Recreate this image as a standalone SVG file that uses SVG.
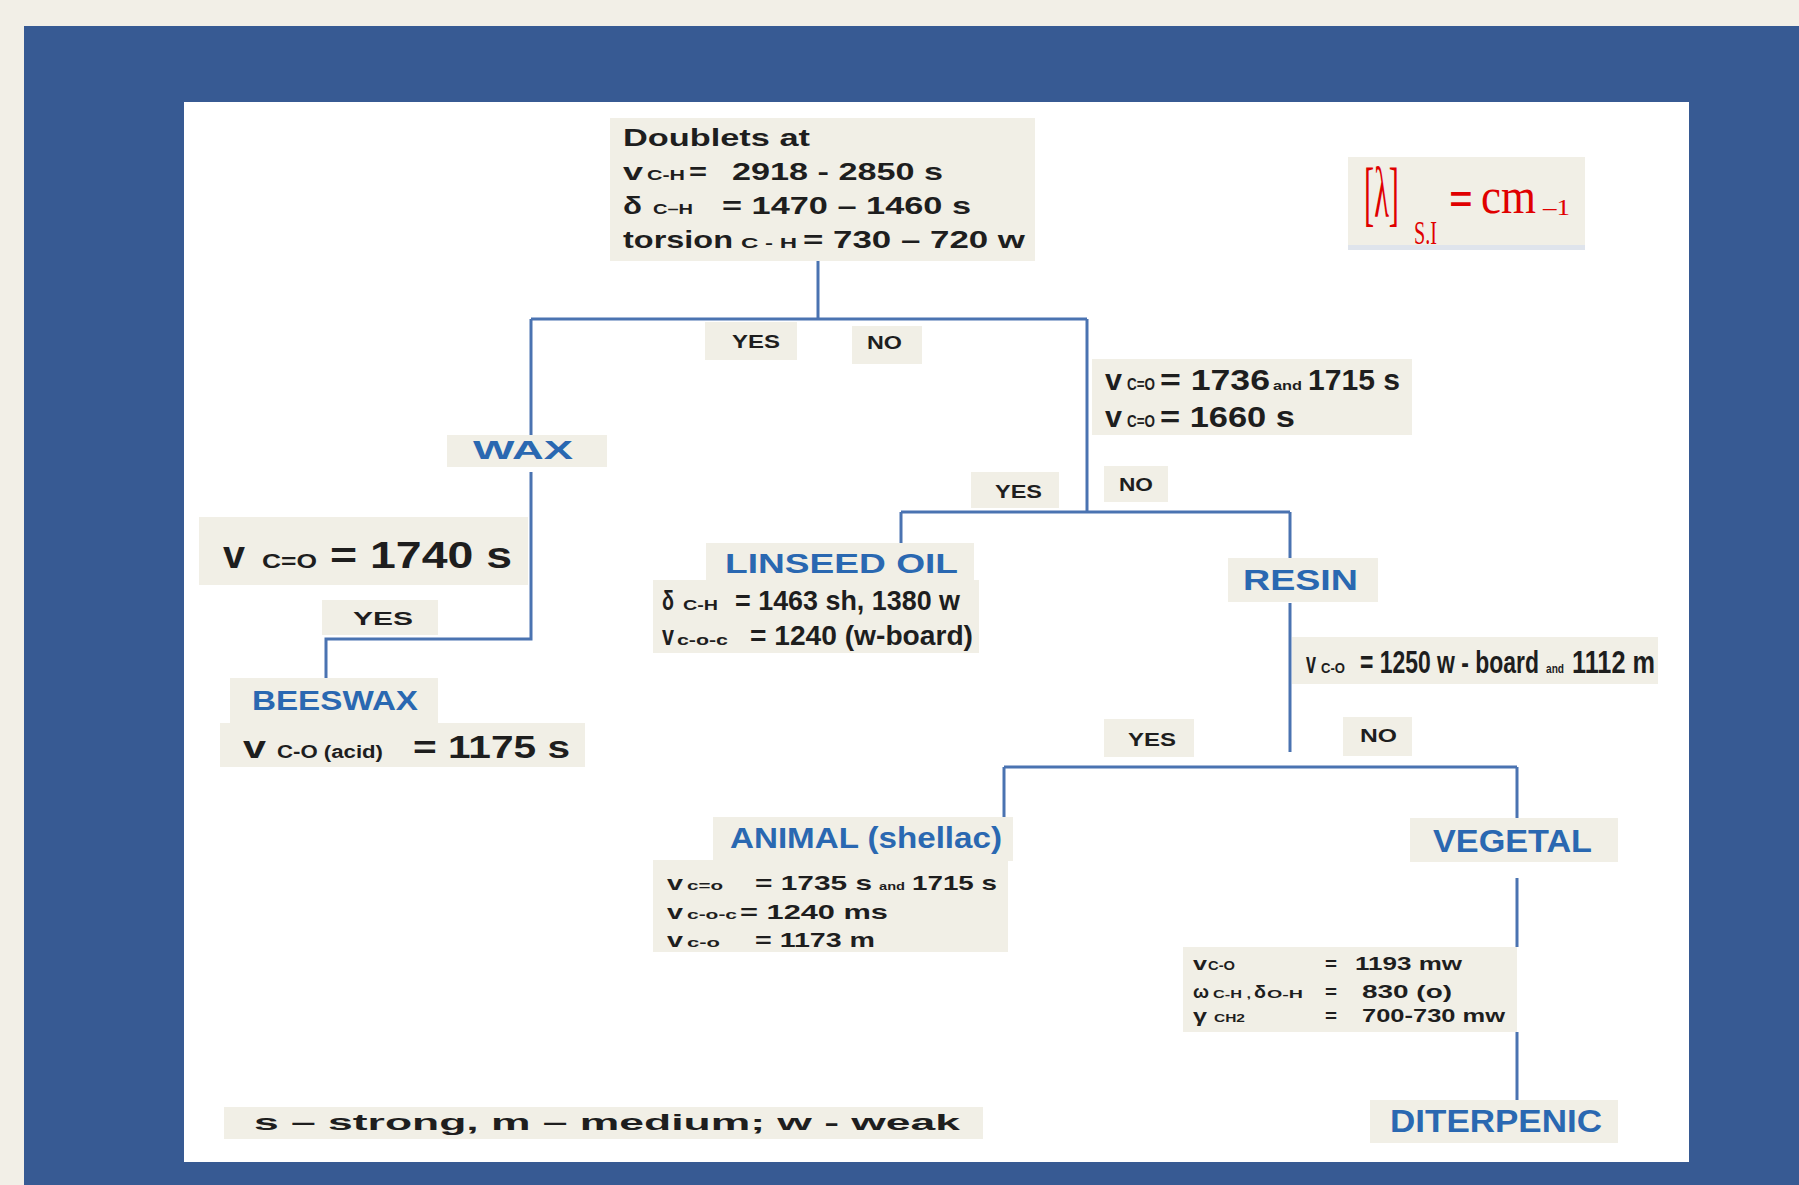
<svg xmlns="http://www.w3.org/2000/svg" width="1799" height="1185" viewBox="0 0 1799 1185">
<style>
.box{fill:#f1efe6}
.t{font-family:"Liberation Sans",Arial,sans-serif;font-weight:bold;fill:#1e1e1e}
.b{fill:#2a68b1}
.r{font-family:"Liberation Serif","Times New Roman",serif;fill:#e00000}
.c{stroke:#4a73b1;stroke-width:3;fill:none}
</style>
<rect x="0" y="0" width="1799" height="1185" fill="#f2efe7"/>
<rect x="24" y="26" width="1775" height="1159" fill="#375a93"/>
<rect x="184" y="102" width="1505" height="1060" fill="#ffffff"/>

<g id="connectors">
<path class="c" d="M818 261 V319"/>
<path class="c" d="M531 319 H1087"/>
<path class="c" d="M531 319 V435"/>
<path class="c" d="M531 472 V639 H326 V678"/>
<path class="c" d="M1087 319 V512"/>
<path class="c" d="M901 512 H1290"/>
<path class="c" d="M901 512 V543"/>
<path class="c" d="M1290 512 V558"/>
<path class="c" d="M1290 603 V752"/>
<path class="c" d="M1004 767 H1517"/>
<path class="c" d="M1004 767 V817"/>
<path class="c" d="M1517 767 V818"/>
<path class="c" d="M1517 878 V947"/>
<path class="c" d="M1517 1032 V1100"/>
</g>

<g id="root">
<rect class="box" x="610" y="118" width="425" height="143"/>
<text class="t" x="623" y="146" font-size="24" textLength="187" lengthAdjust="spacingAndGlyphs">Doublets at</text>
<text class="t" x="623" y="180" font-size="24" textLength="20" lengthAdjust="spacingAndGlyphs">v</text>
<text class="t" x="647" y="180" font-size="15" textLength="38" lengthAdjust="spacingAndGlyphs">C-H</text>
<text class="t" x="689" y="180" font-size="24" textLength="18" lengthAdjust="spacingAndGlyphs">=</text>
<text class="t" x="732" y="180" font-size="24" textLength="211" lengthAdjust="spacingAndGlyphs">2918 - 2850 s</text>
<text class="t" x="623" y="214" font-size="24" textLength="19" lengthAdjust="spacingAndGlyphs">δ</text>
<text class="t" x="653" y="214" font-size="15" textLength="40" lengthAdjust="spacingAndGlyphs">C–H</text>
<text class="t" x="722" y="214" font-size="24" textLength="249" lengthAdjust="spacingAndGlyphs">= 1470 – 1460 s</text>
<text class="t" x="623" y="248" font-size="24" textLength="110" lengthAdjust="spacingAndGlyphs">torsion</text>
<text class="t" x="741" y="248" font-size="15" textLength="56" lengthAdjust="spacingAndGlyphs">C - H</text>
<text class="t" x="803" y="248" font-size="24" textLength="222" lengthAdjust="spacingAndGlyphs">= 730 – 720 w</text>
</g>

<g id="units">
<rect class="box" x="1348" y="157" width="237" height="93"/>
<rect x="1348" y="245" width="237" height="5" fill="#dfe4ec"/>
<text class="r" x="1364" y="217" font-size="72" textLength="35" lengthAdjust="spacingAndGlyphs">[λ]</text>
<text class="r" x="1414" y="244" font-size="34" textLength="23" lengthAdjust="spacingAndGlyphs">S.I</text>
<text class="r" x="1449" y="216" font-size="52" font-weight="bold" textLength="24" lengthAdjust="spacingAndGlyphs">=</text>
<text class="r" x="1481" y="213" font-size="50" textLength="55" lengthAdjust="spacingAndGlyphs">cm</text>
<text class="r" x="1543" y="215" font-size="24" textLength="27" lengthAdjust="spacingAndGlyphs">–1</text>
</g>

<g id="yes1">
<rect class="box" x="705" y="322" width="92" height="38"/>
<text class="t" x="732" y="348" font-size="18" textLength="48" lengthAdjust="spacingAndGlyphs">YES</text>
</g>
<g id="no1">
<rect class="box" x="852" y="326" width="70" height="38"/>
<text class="t" x="867" y="349" font-size="18" textLength="35" lengthAdjust="spacingAndGlyphs">NO</text>
</g>

<g id="wax">
<rect class="box" x="447" y="435" width="160" height="32"/>
<text class="t b" x="473" y="459" font-size="25" textLength="100" lengthAdjust="spacingAndGlyphs">WAX</text>
</g>

<g id="cond-wax">
<rect class="box" x="199" y="517" width="329" height="68"/>
<text class="t" x="223" y="568" font-size="38" textLength="22" lengthAdjust="spacingAndGlyphs">v</text>
<text class="t" x="262" y="568" font-size="20" textLength="55" lengthAdjust="spacingAndGlyphs">C=O</text>
<text class="t" x="330" y="568" font-size="36" textLength="182" lengthAdjust="spacingAndGlyphs">= 1740 s</text>
</g>

<g id="yes-wax">
<rect class="box" x="322" y="600" width="116" height="35"/>
<text class="t" x="353" y="625" font-size="18" textLength="60" lengthAdjust="spacingAndGlyphs">YES</text>
</g>

<g id="beeswax">
<rect class="box" x="230" y="678" width="208" height="45"/>
<text class="t b" x="252" y="710" font-size="28" textLength="166" lengthAdjust="spacingAndGlyphs">BEESWAX</text>
</g>
<g id="beeswax-data">
<rect class="box" x="220" y="723" width="365" height="44"/>
<text class="t" x="243" y="758" font-size="32" textLength="23" lengthAdjust="spacingAndGlyphs">v</text>
<text class="t" x="277" y="758" font-size="18" textLength="106" lengthAdjust="spacingAndGlyphs">C-O (acid)</text>
<text class="t" x="413" y="758" font-size="32" textLength="157" lengthAdjust="spacingAndGlyphs">= 1175 s</text>
</g>

<g id="cond-co">
<rect class="box" x="1092" y="359" width="320" height="76"/>
<text class="t" x="1105" y="390" font-size="30" textLength="17" lengthAdjust="spacingAndGlyphs">v</text>
<text class="t" x="1127" y="390" font-size="16" textLength="28" lengthAdjust="spacingAndGlyphs">C=O</text>
<text class="t" x="1160" y="390" font-size="30" textLength="110" lengthAdjust="spacingAndGlyphs">= 1736</text>
<text class="t" x="1273" y="390" font-size="13" textLength="29" lengthAdjust="spacingAndGlyphs">and</text>
<text class="t" x="1308" y="390" font-size="30" textLength="92" lengthAdjust="spacingAndGlyphs">1715 s</text>
<text class="t" x="1105" y="427" font-size="30" textLength="17" lengthAdjust="spacingAndGlyphs">v</text>
<text class="t" x="1127" y="427" font-size="16" textLength="28" lengthAdjust="spacingAndGlyphs">C=O</text>
<text class="t" x="1160" y="427" font-size="30" textLength="135" lengthAdjust="spacingAndGlyphs">= 1660 s</text>
</g>

<g id="yes2">
<rect class="box" x="971" y="472" width="88" height="36"/>
<text class="t" x="995" y="498" font-size="18" textLength="47" lengthAdjust="spacingAndGlyphs">YES</text>
</g>
<g id="no2">
<rect class="box" x="1104" y="466" width="64" height="36"/>
<text class="t" x="1119" y="491" font-size="18" textLength="34" lengthAdjust="spacingAndGlyphs">NO</text>
</g>

<g id="linseed">
<rect class="box" x="706" y="543" width="268" height="38"/>
<text class="t b" x="725" y="573" font-size="28" textLength="233" lengthAdjust="spacingAndGlyphs">LINSEED OIL</text>
</g>
<g id="linseed-data">
<rect class="box" x="653" y="580" width="326" height="73"/>
<text class="t" x="662" y="610" font-size="28" textLength="12" lengthAdjust="spacingAndGlyphs">δ</text>
<text class="t" x="683" y="610" font-size="14" textLength="35" lengthAdjust="spacingAndGlyphs">C-H</text>
<text class="t" x="735" y="610" font-size="28" textLength="225" lengthAdjust="spacingAndGlyphs">= 1463 sh, 1380 w</text>
<text class="t" x="662" y="645" font-size="28" textLength="12" lengthAdjust="spacingAndGlyphs">v</text>
<text class="t" x="677" y="645" font-size="14" textLength="51" lengthAdjust="spacingAndGlyphs">c-o-c</text>
<text class="t" x="750" y="645" font-size="28" textLength="223" lengthAdjust="spacingAndGlyphs">=  1240  (w-board)</text>
</g>

<g id="resin">
<rect class="box" x="1228" y="558" width="150" height="44"/>
<text class="t b" x="1243" y="590" font-size="30" textLength="115" lengthAdjust="spacingAndGlyphs">RESIN</text>
</g>
<g id="cond-resin">
<rect class="box" x="1292" y="637" width="366" height="47"/>
<text class="t" x="1306" y="673" font-size="30" textLength="10" lengthAdjust="spacingAndGlyphs">v</text>
<text class="t" x="1321" y="673" font-size="15" textLength="24" lengthAdjust="spacingAndGlyphs">C-O</text>
<text class="t" x="1360" y="673" font-size="32" textLength="179" lengthAdjust="spacingAndGlyphs">= 1250 w - board</text>
<text class="t" x="1546" y="673" font-size="12" textLength="18" lengthAdjust="spacingAndGlyphs">and</text>
<text class="t" x="1572" y="673" font-size="32" textLength="83" lengthAdjust="spacingAndGlyphs">1112 m</text>
</g>

<g id="yes3">
<rect class="box" x="1104" y="719" width="90" height="38"/>
<text class="t" x="1128" y="746" font-size="18" textLength="48" lengthAdjust="spacingAndGlyphs">YES</text>
</g>
<g id="no3">
<rect class="box" x="1343" y="717" width="69" height="39"/>
<text class="t" x="1360" y="742" font-size="18" textLength="37" lengthAdjust="spacingAndGlyphs">NO</text>
</g>

<g id="animal">
<rect class="box" x="713" y="817" width="300" height="44"/>
<text class="t b" x="730" y="848" font-size="30" textLength="272" lengthAdjust="spacingAndGlyphs">ANIMAL (shellac)</text>
</g>
<g id="animal-data">
<rect class="box" x="653" y="860" width="355" height="92"/>
<text class="t" x="667" y="890" font-size="21" textLength="16" lengthAdjust="spacingAndGlyphs">v</text>
<text class="t" x="687" y="890" font-size="12" textLength="36" lengthAdjust="spacingAndGlyphs">c=o</text>
<text class="t" x="755" y="890" font-size="21" textLength="117" lengthAdjust="spacingAndGlyphs">= 1735 s</text>
<text class="t" x="879" y="890" font-size="11" textLength="26" lengthAdjust="spacingAndGlyphs">and</text>
<text class="t" x="912" y="890" font-size="21" textLength="85" lengthAdjust="spacingAndGlyphs">1715 s</text>
<text class="t" x="667" y="919" font-size="21" textLength="16" lengthAdjust="spacingAndGlyphs">v</text>
<text class="t" x="687" y="919" font-size="12" textLength="50" lengthAdjust="spacingAndGlyphs">c-o-c</text>
<text class="t" x="740" y="919" font-size="21" textLength="148" lengthAdjust="spacingAndGlyphs">= 1240 ms</text>
<text class="t" x="667" y="947" font-size="21" textLength="16" lengthAdjust="spacingAndGlyphs">v</text>
<text class="t" x="687" y="947" font-size="12" textLength="33" lengthAdjust="spacingAndGlyphs">c-o</text>
<text class="t" x="755" y="947" font-size="21" textLength="120" lengthAdjust="spacingAndGlyphs">= 1173 m</text>
</g>

<g id="vegetal">
<rect class="box" x="1410" y="818" width="208" height="44"/>
<text class="t b" x="1433" y="852" font-size="32" textLength="159" lengthAdjust="spacingAndGlyphs">VEGETAL</text>
</g>
<g id="vegetal-data">
<rect class="box" x="1183" y="947" width="334" height="85"/>
<text class="t" x="1193" y="970" font-size="18" textLength="14" lengthAdjust="spacingAndGlyphs">v</text>
<text class="t" x="1208" y="970" font-size="12" textLength="27" lengthAdjust="spacingAndGlyphs">C-O</text>
<text class="t" x="1325" y="970" font-size="18" textLength="12" lengthAdjust="spacingAndGlyphs">=</text>
<text class="t" x="1355" y="970" font-size="18" textLength="107" lengthAdjust="spacingAndGlyphs">1193 mw</text>
<text class="t" x="1193" y="998" font-size="18" textLength="16" lengthAdjust="spacingAndGlyphs">ω</text>
<text class="t" x="1213" y="998" font-size="11" textLength="38" lengthAdjust="spacingAndGlyphs">C-H ,</text>
<text class="t" x="1254" y="998" font-size="18" textLength="12" lengthAdjust="spacingAndGlyphs">δ</text>
<text class="t" x="1267" y="998" font-size="11" textLength="36" lengthAdjust="spacingAndGlyphs">O-H</text>
<text class="t" x="1325" y="998" font-size="18" textLength="12" lengthAdjust="spacingAndGlyphs">=</text>
<text class="t" x="1362" y="998" font-size="18" textLength="90" lengthAdjust="spacingAndGlyphs">830  (o)</text>
<text class="t" x="1193" y="1022" font-size="18" textLength="14" lengthAdjust="spacingAndGlyphs">γ</text>
<text class="t" x="1214" y="1022" font-size="11" textLength="31" lengthAdjust="spacingAndGlyphs">CH2</text>
<text class="t" x="1325" y="1022" font-size="18" textLength="12" lengthAdjust="spacingAndGlyphs">=</text>
<text class="t" x="1362" y="1022" font-size="18" textLength="143" lengthAdjust="spacingAndGlyphs">700-730 mw</text>
</g>

<g id="diterpenic">
<rect class="box" x="1370" y="1100" width="248" height="43"/>
<text class="t b" x="1390" y="1132" font-size="32" textLength="212" lengthAdjust="spacingAndGlyphs">DITERPENIC</text>
</g>

<g id="legend">
<rect class="box" x="224" y="1107" width="759" height="32"/>
<text class="t" x="254" y="1130" font-size="22" textLength="706" lengthAdjust="spacingAndGlyphs">s – strong, m – medium; w - weak</text>
</g>
</svg>
